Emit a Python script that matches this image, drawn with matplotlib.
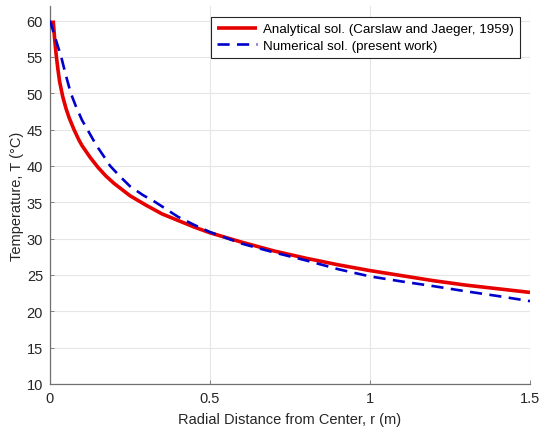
import matplotlib
matplotlib.use("Agg")
import matplotlib.pyplot as plt

# Analytical solution (Carslaw and Jaeger, 1959)
r_analytical = [0.01, 0.015, 0.02, 0.025, 0.03, 0.04, 0.05, 0.06, 0.075, 0.09, 0.1,
                0.125, 0.15, 0.175, 0.2, 0.25, 0.3, 0.35, 0.4, 0.45, 0.5,
                0.6, 0.7, 0.8, 0.9, 1.0, 1.1, 1.2, 1.3, 1.4, 1.5]
T_analytical = [60.0, 57.2, 55.0, 53.2, 51.6, 49.5, 47.9, 46.6, 45.0, 43.6, 42.8,
                41.2, 39.8, 38.6, 37.6, 35.9, 34.6, 33.4, 32.5, 31.6, 30.8,
                29.5, 28.3, 27.3, 26.4, 25.6, 24.9, 24.2, 23.6, 23.1, 22.6]

# Numerical solution (present work)
r_numerical = [0.0, 0.015, 0.035, 0.05, 0.065, 0.08, 0.1, 0.117, 0.135, 0.15, 0.17,
               0.188, 0.22, 0.25, 0.29, 0.33, 0.4, 0.45, 0.5,
               0.6, 0.7, 0.8, 0.9, 1.0, 1.1, 1.2, 1.3, 1.4, 1.5]
T_numerical = [60.0, 57.8, 55.0, 52.4, 50.0, 48.3, 46.3, 45.0, 43.6, 42.5, 41.2,
               40.0, 38.5, 37.2, 36.0, 35.0, 33.0, 31.9, 30.9,
               29.3, 28.1, 27.0, 25.8, 24.8, 24.1, 23.45, 22.75, 22.1, 21.4]

x_ticks = [0, 0.5, 1, 1.5]
x_tick_labels = ["0", "0.5", "1", "1.5"]
y_ticks = [10, 15, 20, 25, 30, 35, 40, 45, 50, 55, 60]

plt.rcParams['font.family'] = ['Liberation Sans', 'DejaVu Sans']

fig = plt.figure(figsize=(5.5, 4.39), dpi=100)
ax = fig.add_axes([50/550, 1 - 385/439, 480/550, (385 - 7)/439])

ax.plot(r_analytical, T_analytical, color='#e60000', lw=2.6, solid_capstyle='butt',
        solid_joinstyle='round',
        label='Analytical sol. (Carslaw and Jaeger, 1959)', zorder=3)
ax.plot(r_numerical, T_numerical, color='#0000cc', lw=1.9, dashes=(4.6, 2.8),
        label='Numerical sol. (present work)', zorder=4)

ax.set_xlim(0, 1.5)
ax.set_ylim(10, 62)
ax.set_xticks(x_ticks)
ax.set_xticklabels(x_tick_labels)
ax.set_yticks(y_ticks)

ax.grid(True, color='#e6e6e6', lw=0.8)
ax.set_axisbelow(True)
for s in ['top', 'right']:
    ax.spines[s].set_visible(False)
for s in ['left', 'bottom']:
    ax.spines[s].set_color('#707070')
    ax.spines[s].set_linewidth(0.9)
ax.tick_params(direction='in', length=3, width=0.6, color='#707070',
               labelcolor='#262626', labelsize=10.5, pad=5)

ax.set_xlabel('Radial Distance from Center, r (m)', fontsize=10.5, color='#262626', labelpad=5)
ax.set_ylabel('Temperature, T (°C)', fontsize=10.5, color='#262626', labelpad=2)

leg = ax.legend(loc='upper right', bbox_to_anchor=(520/550, 1 - 18/439),
                bbox_transform=fig.transFigure, fontsize=9.6, frameon=True, fancybox=False,
                edgecolor='#262626', framealpha=1, borderpad=0.45, labelspacing=0.3,
                handlelength=3.0, handletextpad=0.45, borderaxespad=0)
leg.get_frame().set_linewidth(0.8)

fig.savefig('out.png', dpi=100)
